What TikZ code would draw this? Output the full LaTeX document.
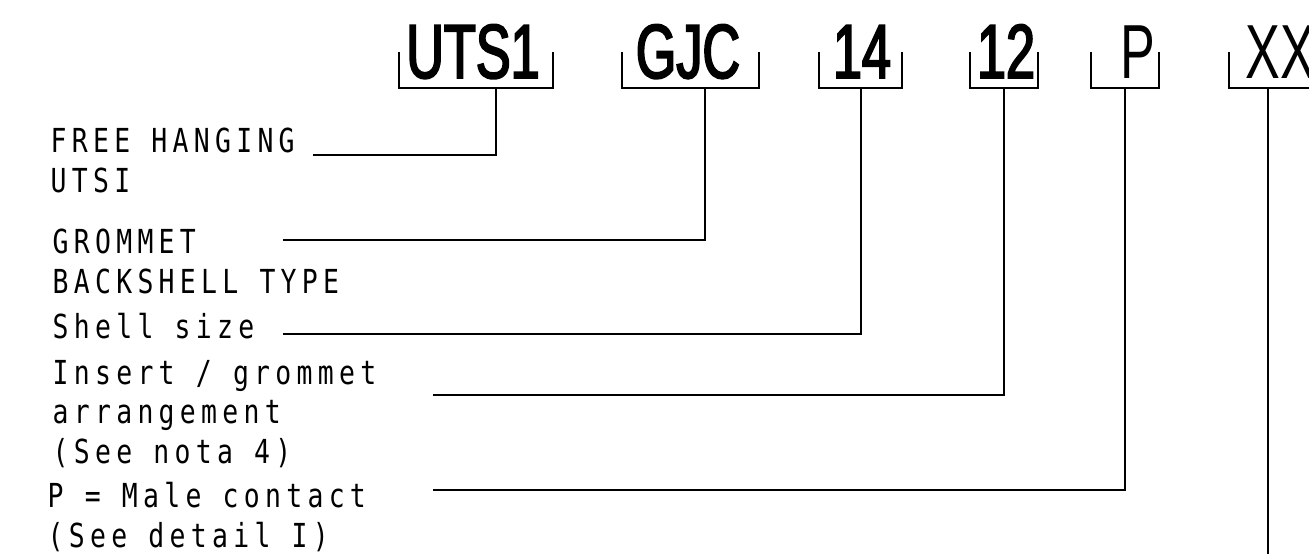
\documentclass[tikz,border=0pt]{standalone}
\usepackage{fontspec}
\newfontfamily\partfont[FakeStretch=0.68]{Liberation Sans}
\newfontfamily\partboldfont[FakeStretch=0.68,FakeBold=2.5]{Liberation Sans}
\newfontfamily\cadfont[FakeStretch=0.8,LetterSpace=16]{DejaVu Sans Mono}
\usetikzlibrary{positioning}

\begin{document}
\begin{tikzpicture}[
  x=0.01cm, y=-0.01cm,
  code/.style={anchor=base, inner sep=0pt, font=\partfont\fontsize{21.8}{24}\selectfont},
  boldcode/.style={code, font=\partboldfont\fontsize{21.8}{24}\selectfont},
  desc/.style={anchor=base west, inner sep=0pt, align=left, font=\cadfont\fontsize{9.4}{11.1}\selectfont},
  line/.style={line width=0.6pt}
]
\useasboundingbox (0,0) rectangle (1309,553);
\clip (0,0) rectangle (1309,553);

% part number fields
\node[boldcode] (uts) at (473,78) {UTS1};
\node[boldcode] (gjc) at (688,78) {GJC};
\node[boldcode] (sz)  at (862,78) {14};
\node[boldcode] (arr) at (1006,78) {12};
\node[code]     (cnt) at (1138,78) {P};
\node[code, anchor=base west] (xx) at (1245,78) {XX};

% brackets under the fields
\draw[line] (399,52) |- (553,88) -- (553,52);
\draw[line] (622,52) |- (759,88) -- (759,52);
\draw[line] (819,52) |- (902,88) -- (902,52);
\draw[line] (970,52) |- (1038,88) -- (1038,52);
\draw[line] (1091,52) |- (1159,88) -- (1159,52);
\draw[line] (1229,52) |- (1340,88) -- (1340,52);
\coordinate (uts-b) at (496,88);
\coordinate (gjc-b) at (705,88);
\coordinate (sz-b)  at (861,88);
\coordinate (arr-b) at (1004,88);
\coordinate (cnt-b) at (1125,88);
\coordinate (xx-b)  at (1268,88);

% descriptions (anchored on the last line)
\node[desc] (hang)  at (50,192)  {FREE HANGING\\UTSI};
\node[desc] (shell) at (52,293)  {GROMMET\\BACKSHELL TYPE};
\node[desc] (size)  at (52,338)  {Shell size};
\node[desc] (ins)   at (52,463)  {Insert / grommet\\arrangement\\(See nota 4)};
\node[desc] (male)  at (47,547)  {P = Male contact\\(See detail I)};

\coordinate (hang-l)  at (313,155);
\coordinate (shell-l) at (283,240);
\coordinate (size-l)  at (283,334);
\coordinate (ins-l)   at (433,395);
\coordinate (male-l)  at (433,490);
\coordinate (xx-e)    at (1268,560);

% leaders
\draw[line] (hang-l) -| (uts-b);
\draw[line] (shell-l) -| (gjc-b);
\draw[line] (size-l) -| (sz-b);
\draw[line] (ins-l) -| (arr-b);
\draw[line] (male-l) -| (cnt-b);
\draw[line] (xx-b) -- (xx-e);
\end{tikzpicture}
\end{document}
